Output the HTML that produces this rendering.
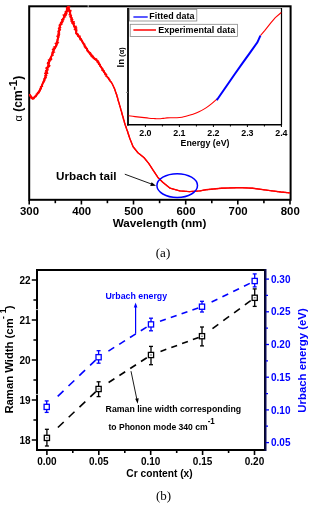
<!DOCTYPE html>
<html><head><meta charset="utf-8"><style>
html,body{margin:0;padding:0;background:#fff;}
svg{display:block;will-change:transform;}
</style></head><body>
<svg width="335" height="508" viewBox="0 0 335 508">
<rect x="29.2" y="6.3" width="261.4" height="193.5" fill="none" stroke="#000" stroke-width="2"/>
<line x1="29.2" y1="200" x2="29.2" y2="204.5" stroke="#000" stroke-width="1.6"/>
<line x1="55.3" y1="200" x2="55.3" y2="203.2" stroke="#000" stroke-width="1.6"/>
<line x1="81.4" y1="200" x2="81.4" y2="204.5" stroke="#000" stroke-width="1.6"/>
<line x1="107.4" y1="200" x2="107.4" y2="203.2" stroke="#000" stroke-width="1.6"/>
<line x1="133.5" y1="200" x2="133.5" y2="204.5" stroke="#000" stroke-width="1.6"/>
<line x1="159.6" y1="200" x2="159.6" y2="203.2" stroke="#000" stroke-width="1.6"/>
<line x1="185.7" y1="200" x2="185.7" y2="204.5" stroke="#000" stroke-width="1.6"/>
<line x1="211.8" y1="200" x2="211.8" y2="203.2" stroke="#000" stroke-width="1.6"/>
<line x1="237.8" y1="200" x2="237.8" y2="204.5" stroke="#000" stroke-width="1.6"/>
<line x1="263.9" y1="200" x2="263.9" y2="203.2" stroke="#000" stroke-width="1.6"/>
<line x1="290.0" y1="200" x2="290.0" y2="204.5" stroke="#000" stroke-width="1.6"/>
<text x="29.5" y="215.2" text-anchor="middle" style="font-family:'Liberation Sans',sans-serif;font-weight:bold;font-size:11.4px">300</text>
<text x="81.7" y="215.2" text-anchor="middle" style="font-family:'Liberation Sans',sans-serif;font-weight:bold;font-size:11.4px">400</text>
<text x="133.8" y="215.2" text-anchor="middle" style="font-family:'Liberation Sans',sans-serif;font-weight:bold;font-size:11.4px">500</text>
<text x="186.0" y="215.2" text-anchor="middle" style="font-family:'Liberation Sans',sans-serif;font-weight:bold;font-size:11.4px">600</text>
<text x="238.1" y="215.2" text-anchor="middle" style="font-family:'Liberation Sans',sans-serif;font-weight:bold;font-size:11.4px">700</text>
<text x="290.3" y="215.2" text-anchor="middle" style="font-family:'Liberation Sans',sans-serif;font-weight:bold;font-size:11.4px">800</text>
<text x="159.5" y="227.2" text-anchor="middle" style="font-family:'Liberation Sans',sans-serif;font-weight:bold;font-size:11.7px">Wavelength (nm)</text>
<text transform="translate(22,121.4) rotate(-90)" style="font-family:'Liberation Sans',sans-serif;font-weight:bold;font-size:12px"><tspan style="font-weight:normal;font-size:11px">α</tspan> (cm<tspan dy="-5" style="font-size:11.8px">-1</tspan><tspan dy="5">)</tspan></text>
<polyline points="29.6,94.3 31.4,97.9 33.2,98.5 35.6,96.1 38.5,92.5 41.5,86.6 43.9,80.6 45.7,75.8 46.9,69.9 48.7,63.9 49.9,59.7 51.7,55.5 53.5,50.7 56.0,46.0 57.2,42.4 58.8,34.0 59.6,27.0 61.8,22.0 63.8,17.9 65.3,13.4 67.1,9.7 68.3,6.7 69.8,11.9 71.3,17.9 73.5,24.6 75.8,29.1 76.3,33.4 80.7,38.8 84.3,45.1 88.8,52.2 92.4,56.7 96.9,60.3 101.3,67.5 105.8,74.6 109.4,80.0 111.5,82.5 114.6,88.8 116.7,95.0 118.8,102.4 120.9,109.7 123.0,117.0 125.0,124.3 127.2,130.6 129.8,138.5 133.1,146.7 137.9,152.7 143.9,157.5 148.7,163.4 153.4,170.6 158.2,177.8 163.0,182.5 170.1,188.2 179.7,190.9 189.3,191.6 200.0,190.9 205.7,189.8 221.3,188.2 240.2,187.6 252.7,188.2 268.4,190.4 280.9,192.0 290.0,192.9" fill="none" stroke="#f00" stroke-width="1.4" stroke-linejoin="round"/>
<polyline points="29.6,94.3 31.4,97.9 33.2,98.5 35.6,96.1 38.5,92.5 41.5,86.6 43.9,80.6 45.7,75.8 46.9,69.9 48.7,63.9 49.9,59.7 51.7,55.5 53.5,50.7 56.0,46.0 57.2,42.4 58.8,34.0 59.6,27.0 61.8,22.0 63.8,17.9 65.3,13.4 67.1,9.7 68.3,6.7 69.8,11.9 71.3,17.9 73.5,24.6 75.8,29.1 76.3,33.4 80.7,38.8 84.3,45.1 88.8,52.2 92.4,56.7 96.9,60.3 101.3,67.5 105.8,74.6" fill="none" stroke="#f00" stroke-width="1.9" stroke-linejoin="round"/>
<polyline points="30.1,94.1 29.7,94.8 30.3,95.1 30.1,95.7 30.3,96.2 31.5,96.2 31.8,96.6 30.6,97.8 31.6,97.4 32.2,97.6 32.3,99.2 33.2,98.5 34.1,98.6 34.0,97.7 34.6,97.5 34.3,96.4 35.4,96.7 36.2,96.6 36.0,95.7 36.6,95.6 36.8,95.1 36.2,94.0 37.6,94.4 37.7,93.8 37.5,93.1 37.4,92.3 39.2,92.8 38.7,92.0 39.4,91.8 39.9,91.5 39.8,90.9 40.4,90.6 39.7,89.7 40.7,89.6 40.2,88.8 41.4,88.8 41.5,88.3 40.3,87.1 40.6,86.7 41.0,86.4 42.6,86.4 41.8,85.6 42.3,85.2 41.9,84.5 42.5,84.1 42.5,83.5 42.6,83.0 43.3,82.7 43.5,82.2 44.3,81.9 44.0,81.2 44.7,80.9 44.7,80.4 45.2,80.0 44.8,79.3 44.0,78.4 45.5,78.5 45.9,78.0 46.4,77.7 45.6,76.8 46.2,76.5 44.7,75.6 46.9,75.5 46.1,74.9 45.3,74.2 44.6,73.5 47.4,73.6 47.9,73.2 45.0,72.1 47.5,72.1 46.3,71.3 45.5,70.6 46.1,70.3 47.8,70.2 48.3,69.8 45.7,68.5 47.7,68.5 46.0,67.5 48.4,67.6 47.2,66.7 49.2,66.8 49.7,66.4 48.3,65.4 50.0,65.4 47.9,64.2 47.3,63.5 49.2,63.5 47.5,62.4 48.2,62.0 49.0,61.7 49.8,61.4 48.5,60.4 48.3,59.8 51.0,60.2 49.5,59.0 51.7,59.4 51.7,58.8 50.3,57.7 50.8,57.3 51.2,56.9 51.7,56.6 51.8,56.1 51.9,55.6 52.3,55.2 53.5,55.1 52.3,54.1 52.2,53.5 53.3,53.4 51.9,52.3 52.3,51.9 54.7,52.2 53.4,51.2 53.6,50.8 52.3,49.4 53.7,49.6 54.5,49.4 53.1,48.1 55.1,48.5 55.4,48.1 53.9,46.7 55.9,47.1 55.6,46.4 56.6,46.2 55.7,45.3 57.0,45.2 57.3,44.7 55.1,43.4 55.4,43.0 57.6,43.1 58.7,42.7 56.5,41.7 57.2,41.4 57.8,41.0 57.0,40.3 57.2,39.8 57.1,39.3 57.4,38.9 58.3,38.5 57.4,37.8 57.7,37.4 59.1,37.1 56.7,36.2 58.7,36.0 59.3,35.6 58.0,34.9 57.8,34.3 59.8,34.1 58.0,33.4 57.9,32.9 58.8,32.5 59.7,32.1 57.7,31.3 58.5,30.9 58.6,30.4 60.4,30.1 59.1,29.5 60.6,29.1 58.3,28.4 58.9,27.9 60.1,27.6 60.8,27.5 59.7,26.4 59.2,25.6 59.1,25.0 60.6,25.0 59.7,24.1 61.9,24.4 62.2,24.0 60.4,22.6 60.9,22.2 62.7,22.5 62.5,21.8 63.2,21.5 62.0,20.4 61.6,19.6 62.3,19.4 64.0,19.7 62.7,18.5 63.1,18.1 63.5,17.8 63.7,17.3 63.8,16.8 65.7,16.9 63.4,15.5 63.0,14.9 66.2,15.4 66.2,14.8 66.7,14.4 65.1,13.3 66.9,13.6 67.1,13.1 65.1,11.6 67.0,11.9 67.5,11.6 67.1,10.9 66.9,10.2 66.4,9.4 66.8,9.0 66.6,8.4 66.3,7.7 68.2,7.8 67.4,6.9 67.3,7.0 69.9,6.8 67.3,8.1 68.1,8.4 67.5,9.2 67.8,9.7 67.9,10.2 69.1,10.4 71.1,10.4 68.8,11.6 70.9,11.6 70.6,12.2 69.5,13.0 70.1,13.4 70.6,13.8 69.0,14.8 70.2,15.0 71.2,15.3 71.6,15.7 69.7,16.7 71.1,16.9 70.2,17.6 71.8,17.7 72.4,18.1 71.5,18.9 70.7,19.7 73.0,19.5 71.1,20.6 70.9,21.2 71.4,21.6 71.5,22.1 74.3,21.7 72.5,22.8 71.9,23.5 74.6,23.2 74.1,23.9 74.2,24.2 73.6,25.1 74.2,25.4 74.3,25.9 73.6,26.8 76.2,26.1 76.2,26.6 76.2,27.2 76.5,27.6 76.9,28.0 74.2,29.3 74.7,29.8 77.3,30.0 76.0,30.7 76.7,31.2 76.7,31.7 76.7,32.3 75.7,32.9 76.1,33.6 77.0,33.5 77.8,33.6 77.8,34.3 78.6,34.3 77.8,35.6 77.8,36.4 79.0,36.1 80.1,35.8 80.2,36.4 80.0,37.3 79.7,38.2 79.6,39.0 81.1,38.6 80.1,39.8 80.9,39.9 81.7,40.0 82.1,40.4 82.0,41.0 81.9,41.7 82.7,41.9 82.4,42.6 83.1,42.8 83.8,43.0 83.5,43.8 83.4,44.4 84.9,44.2 84.4,45.0 84.7,45.5 84.2,46.4 84.3,46.9 85.7,46.7 85.0,47.8 85.4,48.1 86.7,47.9 86.6,48.6 87.5,48.6 86.5,49.9 87.1,50.2 87.0,50.9 87.4,51.2 87.9,51.5 88.1,52.0 88.7,52.3 89.8,52.1 89.3,53.1 90.6,52.7 90.7,53.3 90.0,54.6 91.5,54.0 91.8,54.5 92.1,54.9 91.1,56.4 92.6,55.8 93.1,55.9 92.3,57.6 93.7,56.7 93.2,58.3 93.8,58.3 94.0,58.9 94.2,59.4 95.2,59.1 95.3,59.8 96.7,58.8 96.1,60.4 96.9,60.3 96.8,61.0 98.2,60.7 97.3,61.9 97.2,62.6 99.1,62.0 98.9,62.8 98.7,63.5 98.5,64.3 99.9,64.1 100.3,64.4 100.4,65.0 100.0,65.8 100.0,66.4 100.9,66.5 101.3,66.9 101.5,67.4 101.9,67.8 102.0,68.3 102.9,68.3 102.4,69.3 101.8,70.3 103.1,70.1 102.8,70.9 104.2,70.7 103.5,71.7 103.6,72.2 104.1,72.6 104.6,72.8 105.0,73.2 105.0,73.9 104.8,74.6 106.4,74.2 106.8,74.6 105.9,75.8 105.9,76.5 107.0,76.4 107.4,76.8 107.2,77.6 108.5,77.4 108.6,77.9 109.1,78.3 108.6,79.2 109.4,79.3 109.9,79.6 109.4,80.7 109.9,81.0 110.5,81.2 110.7,81.7 111.2,82.0 111.3,82.6 111.7,83.0 112.1,83.3 112.3,83.8 112.6,84.2 112.6,84.7 112.9,85.2 113.2,85.6 113.3,86.1 113.6,86.5 113.6,87.1 114.1,87.4 113.9,88.0 114.4,88.3 114.5,88.8 114.8,89.3 114.7,89.8 114.9,90.3 115.2,90.7 115.4,91.2 115.4,91.7 115.5,92.2 115.9,92.6 115.9,93.1 116.0,93.7 116.4,94.0 116.7,94.5 116.9,95.0 116.7,95.5 116.9,96.0 116.9,96.6 117.1,97.0 117.5,97.4 117.7,97.9 117.8,98.4 118.0,98.9 117.8,99.5 117.9,100.0 118.0,100.5 118.5,100.9 118.3,101.5 118.8,101.9 118.8,102.4 118.8,102.9 119.3,103.3 119.5,103.8 119.2,104.4 119.6,104.8 119.7,105.3 119.7,105.8 119.8,106.3 120.3,106.7 120.3,107.2 120.4,107.7 120.5,108.2 120.8,108.7 120.7,109.2 120.6,109.8 121.1,110.2 121.2,110.7 121.5,111.1 121.6,111.6 121.5,112.2 122.0,112.6 121.7,113.2 121.8,113.7 122.4,114.0 122.0,114.6 122.5,115.0 122.4,115.6 122.6,116.1 123.0,116.5 122.9,117.0 123.0,117.5 123.1,118.0 123.5,118.4 123.4,119.0 123.4,119.5 123.7,119.9 123.9,120.4 124.3,120.8 124.2,121.4 124.4,121.8 124.3,122.4 124.5,122.9 124.7,123.3 125.1,123.8 124.9,124.3 125.1,124.8 125.5,125.2 125.3,125.8 125.6,126.3 126.1,126.6 125.8,127.3 126.4,127.6 126.4,128.1 126.4,128.7 126.6,129.2 126.8,129.6 126.9,130.1 127.2,130.6 127.5,131.1 127.7,131.5 127.9,132.0 127.7,132.6 127.9,133.1 128.2,133.6 128.2,134.1 128.6,134.5 128.8,135.0 128.9,135.5 128.8,136.1 129.4,136.4 129.3,137.0 129.6,137.5 129.5,138.1 129.9,138.5 130.1,138.9 130.2,139.5 130.4,139.9 130.6,140.4 130.8,140.9 131.0,141.4 131.2,141.9 131.4,142.4 131.5,142.8 131.7,143.3 131.9,143.8 132.1,144.3 132.3,144.8 132.5,145.3 132.7,145.7 132.9,146.2 133.1,146.7 133.4,147.1 133.7,147.5 134.1,147.9 134.4,148.3 134.7,148.7 135.0,149.1 135.3,149.5 135.7,149.9 136.0,150.3 136.3,150.7 136.6,151.1 136.9,151.5 137.3,151.9 137.6,152.3 137.9,152.7 138.3,153.0 138.7,153.3 139.1,153.7 139.5,154.0 139.9,154.3 140.3,154.6 140.7,154.9 141.1,155.3 141.5,155.6 141.9,155.9 142.3,156.2 142.7,156.5 143.1,156.9 143.5,157.2 143.9,157.5 144.2,157.9 144.5,158.3 144.9,158.7 145.2,159.1 145.5,159.5 145.8,159.9 146.1,160.3 146.5,160.6 146.8,161.0 147.1,161.4 147.4,161.8 147.7,162.2 148.1,162.6 148.4,163.0 148.7,163.4 149.0,163.8 149.3,164.2 149.5,164.7 149.8,165.1 150.1,165.5 150.4,165.9 150.6,166.4 150.9,166.8 151.2,167.2 151.5,167.6 151.7,168.1 152.0,168.5 152.3,168.9 152.6,169.3 152.8,169.8 153.1,170.2 153.4,170.6 153.7,171.0 154.0,171.4 154.2,171.9 154.5,172.3 154.8,172.7 155.1,173.1 155.4,173.6 155.7,174.0 155.9,174.4 156.2,174.8 156.5,175.3 156.8,175.7 157.1,176.1 157.4,176.5 157.6,177.0 157.9,177.4 158.2,177.8 158.6,178.2 158.9,178.5 159.3,178.9 159.7,179.2 160.0,179.6 160.4,180.0 160.8,180.3 161.2,180.7 161.5,181.1 161.9,181.4 162.3,181.8 162.6,182.1 163.0,182.5 163.4,182.8 163.8,183.1 164.2,183.4 164.6,183.8 165.0,184.1 165.4,184.4 165.8,184.7 166.2,185.0 166.6,185.3 166.9,185.7 167.3,186.0 167.7,186.3 168.1,186.6 168.5,186.9 168.9,187.2 169.3,187.6 169.7,187.9 170.1,188.2 170.6,188.3 171.1,188.5 171.6,188.6 172.1,188.8 172.6,188.9 173.1,189.1 173.6,189.2 174.1,189.3 174.6,189.5 175.2,189.6 175.7,189.8 176.2,189.9 176.7,190.0 177.2,190.2 177.7,190.3 178.2,190.5 178.7,190.6 179.2,190.8 179.7,190.9 180.2,190.9 180.7,191.0 181.2,191.0 181.7,191.0 182.2,191.1 182.7,191.1 183.2,191.2 183.7,191.2 184.2,191.2 184.8,191.3 185.3,191.3 185.8,191.3 186.3,191.4 186.8,191.4 187.3,191.5 187.8,191.5 188.3,191.5 188.8,191.6 189.3,191.6 189.8,191.6 190.3,191.5 190.8,191.5 191.3,191.5 191.8,191.4 192.4,191.4 192.9,191.4 193.4,191.3 193.9,191.3 194.4,191.3 194.9,191.2 195.4,191.2 195.9,191.2 196.4,191.1 196.9,191.1 197.5,191.1 198.0,191.0 198.5,191.0 199.0,191.0 199.5,190.9 200.0,190.9 200.5,190.8 201.0,190.7 201.6,190.6 202.1,190.5 202.6,190.4 203.1,190.3 203.6,190.2 204.1,190.1 204.7,190.0 205.2,189.9 205.7,189.8 206.2,189.7 206.7,189.7 207.2,189.6 207.7,189.6 208.2,189.5 208.7,189.5 209.2,189.4 209.7,189.4 210.2,189.3 210.7,189.3 211.2,189.2 211.7,189.2 212.2,189.1 212.7,189.1 213.2,189.0 213.8,189.0 214.3,188.9 214.8,188.9 215.3,188.8 215.8,188.8 216.3,188.7 216.8,188.7 217.3,188.6 217.8,188.6 218.3,188.5 218.8,188.5 219.3,188.4 219.8,188.4 220.3,188.3 220.8,188.3 221.3,188.2 221.8,188.2 222.3,188.2 222.8,188.2 223.3,188.1 223.9,188.1 224.4,188.1 224.9,188.1 225.4,188.1 225.9,188.1 226.4,188.0 226.9,188.0 227.4,188.0 227.9,188.0 228.5,188.0 229.0,188.0 229.5,187.9 230.0,187.9 230.5,187.9 231.0,187.9 231.5,187.9 232.0,187.9 232.5,187.8 233.0,187.8 233.6,187.8 234.1,187.8 234.6,187.8 235.1,187.8 235.6,187.7 236.1,187.7 236.6,187.7 237.1,187.7 237.6,187.7 238.2,187.7 238.7,187.6 239.2,187.6 239.7,187.6 240.2,187.6 240.7,187.6 241.2,187.6 241.7,187.7 242.2,187.7 242.7,187.7 243.2,187.7 243.7,187.8 244.2,187.8 244.7,187.8 245.2,187.8 245.7,187.9 246.2,187.9 246.7,187.9 247.2,187.9 247.7,188.0 248.2,188.0 248.7,188.0 249.2,188.0 249.7,188.1 250.2,188.1 250.7,188.1 251.2,188.1 251.7,188.2 252.2,188.2 252.7,188.2 253.2,188.3 253.7,188.3 254.2,188.4 254.7,188.5 255.2,188.6 255.7,188.6 256.2,188.7 256.8,188.8 257.3,188.8 257.8,188.9 258.3,189.0 258.8,189.1 259.3,189.1 259.8,189.2 260.3,189.3 260.8,189.3 261.3,189.4 261.8,189.5 262.3,189.5 262.8,189.6 263.3,189.7 263.8,189.8 264.3,189.8 264.9,189.9 265.4,190.0 265.9,190.0 266.4,190.1 266.9,190.2 267.4,190.3 267.9,190.3 268.4,190.4 268.9,190.5 269.4,190.5 269.9,190.6 270.4,190.7 270.9,190.7 271.4,190.8 271.9,190.8 272.4,190.9 272.9,191.0 273.4,191.0 273.9,191.1 274.4,191.2 274.9,191.2 275.4,191.3 275.9,191.4 276.4,191.4 276.9,191.5 277.4,191.6 277.9,191.6 278.4,191.7 278.9,191.7 279.4,191.8 279.9,191.9 280.4,191.9 280.9,192.0 281.4,192.1 281.9,192.1 282.4,192.2 282.9,192.2 283.4,192.2 283.9,192.3 284.4,192.3 284.9,192.4 285.4,192.4 286.0,192.5 286.5,192.6 287.0,192.6 287.5,192.7 288.0,192.7 288.5,192.8 289.0,192.8 289.5,192.8 290.0,192.9" fill="none" stroke="#f00" stroke-width="1.2" stroke-linejoin="round"/>
<ellipse cx="177.2" cy="185.6" rx="20.3" ry="11.9" fill="none" stroke="#00f" stroke-width="1.5"/>
<line x1="124.8" y1="174.2" x2="153" y2="184.6" stroke="#000" stroke-width="0.9"/>
<polygon points="156,185.7 150.2,186.1 151.6,182.3" fill="#000"/>
<text x="56" y="180" style="font-family:'Liberation Sans',sans-serif;font-weight:bold;font-size:11.7px">Urbach tail</text>
<rect x="128" y="8.5" width="153.5" height="116.5" fill="#fff" stroke="none"/>
<line x1="128" y1="8.5" x2="281.5" y2="8.5" stroke="#888" stroke-width="1"/>
<line x1="281.5" y1="8" x2="281.5" y2="125" stroke="#000" stroke-width="1.2"/>
<line x1="128" y1="8" x2="128" y2="125.5" stroke="#000" stroke-width="1.8"/>
<line x1="127" y1="124.8" x2="282" y2="124.8" stroke="#000" stroke-width="1.5"/>
<line x1="145.4" y1="125" x2="145.4" y2="127" stroke="#000" stroke-width="1"/>
<line x1="162.4" y1="125" x2="162.4" y2="126.5" stroke="#000" stroke-width="1"/>
<line x1="179.4" y1="125" x2="179.4" y2="127" stroke="#000" stroke-width="1"/>
<line x1="196.4" y1="125" x2="196.4" y2="126.5" stroke="#000" stroke-width="1"/>
<line x1="213.4" y1="125" x2="213.4" y2="127" stroke="#000" stroke-width="1"/>
<line x1="230.4" y1="125" x2="230.4" y2="126.5" stroke="#000" stroke-width="1"/>
<line x1="247.4" y1="125" x2="247.4" y2="127" stroke="#000" stroke-width="1"/>
<line x1="264.4" y1="125" x2="264.4" y2="126.5" stroke="#000" stroke-width="1"/>
<line x1="281.4" y1="125" x2="281.4" y2="127" stroke="#000" stroke-width="1"/>
<text x="145.4" y="135.7" text-anchor="middle" style="font-family:'Liberation Sans',sans-serif;font-weight:bold;font-size:8.9px">2.0</text>
<text x="179.4" y="135.7" text-anchor="middle" style="font-family:'Liberation Sans',sans-serif;font-weight:bold;font-size:8.9px">2.1</text>
<text x="213.4" y="135.7" text-anchor="middle" style="font-family:'Liberation Sans',sans-serif;font-weight:bold;font-size:8.9px">2.2</text>
<text x="247.4" y="135.7" text-anchor="middle" style="font-family:'Liberation Sans',sans-serif;font-weight:bold;font-size:8.9px">2.3</text>
<text x="281.4" y="135.7" text-anchor="middle" style="font-family:'Liberation Sans',sans-serif;font-weight:bold;font-size:8.9px">2.4</text>
<text x="205" y="146.2" text-anchor="middle" style="font-family:'Liberation Sans',sans-serif;font-weight:bold;font-size:8.8px">Energy (eV)</text>
<line x1="126" y1="92.4" x2="128" y2="92.4" stroke="#888" stroke-width="1"/>
<text transform="translate(123.6,67.5) rotate(-90)" style="font-family:'Liberation Sans',sans-serif;font-weight:bold;font-size:9.8px">ln<tspan style="font-size:7.4px"> (α)</tspan></text>
<path d="M128.50,115.80 C129.58,115.93 132.75,116.33 135.00,116.60 C137.25,116.87 139.67,117.13 142.00,117.40 C144.33,117.67 146.83,118.00 149.00,118.20 C151.17,118.40 153.33,118.50 155.00,118.60 C156.67,118.70 157.67,118.83 159.00,118.80 C160.33,118.77 161.67,118.55 163.00,118.40 C164.33,118.25 165.50,118.00 167.00,117.90 C168.50,117.80 170.33,117.83 172.00,117.80 C173.67,117.77 175.33,117.80 177.00,117.70 C178.67,117.60 180.50,117.43 182.00,117.20 C183.50,116.97 184.33,116.75 186.00,116.30 C187.67,115.85 189.83,115.25 192.00,114.50 C194.17,113.75 196.67,112.90 199.00,111.80 C201.33,110.70 203.83,109.30 206.00,107.90 C208.17,106.50 210.07,104.98 212.00,103.40 C213.93,101.82 216.67,99.23 217.60,98.40" fill="none" stroke="#f00" stroke-width="1.1"/>
<polyline points="260.4,35.6 264.9,30.4 270.8,22.9 275.3,17.7 281.3,12.5" fill="none" stroke="#f00" stroke-width="1.1"/>
<polyline points="216.7,100.3 235,73.7 242.5,63.2 249.9,52.8 257.4,42.3 260.4,35.6" fill="none" stroke="#00f" stroke-width="2"/>
<rect x="129.5" y="9.5" width="67.3" height="11.5" fill="#fff" stroke="#888" stroke-width="0.8"/>
<line x1="133.4" y1="17" x2="147.7" y2="17" stroke="#00f" stroke-width="1.3"/>
<text transform="translate(149.3,19.4) scale(1,1.08)" style="font-family:'Liberation Sans',sans-serif;font-weight:bold;font-size:8.95px">Fitted data</text>
<rect x="130.2" y="24.3" width="107.2" height="12.2" fill="#fff" stroke="#888" stroke-width="0.8"/>
<line x1="133.4" y1="30" x2="156" y2="30" stroke="#f00" stroke-width="1.5"/>
<text transform="translate(158.2,33.2) scale(1,1.08)" style="font-family:'Liberation Sans',sans-serif;font-weight:bold;font-size:8.95px">Experimental data</text>
<text x="163" y="257" text-anchor="middle" style="font-family:'Liberation Serif',serif;font-size:13px">(a)</text>
<rect x="37" y="270" width="228" height="180" fill="none" stroke="#000" stroke-width="2"/>
<line x1="265.5" y1="269" x2="265.5" y2="451" stroke="#0a0a50" stroke-width="2"/>
<line x1="31.8" y1="440.0" x2="36" y2="440.0" stroke="#000" stroke-width="1.5"/>
<line x1="33.4" y1="420.0" x2="36" y2="420.0" stroke="#000" stroke-width="1.5"/>
<line x1="31.8" y1="400.0" x2="36" y2="400.0" stroke="#000" stroke-width="1.5"/>
<line x1="33.4" y1="380.0" x2="36" y2="380.0" stroke="#000" stroke-width="1.5"/>
<line x1="31.8" y1="360.0" x2="36" y2="360.0" stroke="#000" stroke-width="1.5"/>
<line x1="33.4" y1="340.0" x2="36" y2="340.0" stroke="#000" stroke-width="1.5"/>
<line x1="31.8" y1="320.0" x2="36" y2="320.0" stroke="#000" stroke-width="1.5"/>
<line x1="33.4" y1="300.0" x2="36" y2="300.0" stroke="#000" stroke-width="1.5"/>
<line x1="31.8" y1="280.0" x2="36" y2="280.0" stroke="#000" stroke-width="1.5"/>
<text x="30.5" y="443.6" text-anchor="end" style="font-family:'Liberation Sans',sans-serif;font-weight:bold;font-size:10px">18</text>
<text x="30.5" y="403.6" text-anchor="end" style="font-family:'Liberation Sans',sans-serif;font-weight:bold;font-size:10px">19</text>
<text x="30.5" y="363.6" text-anchor="end" style="font-family:'Liberation Sans',sans-serif;font-weight:bold;font-size:10px">20</text>
<text x="30.5" y="323.6" text-anchor="end" style="font-family:'Liberation Sans',sans-serif;font-weight:bold;font-size:10px">21</text>
<text x="30.5" y="283.6" text-anchor="end" style="font-family:'Liberation Sans',sans-serif;font-weight:bold;font-size:10px">22</text>
<line x1="266" y1="442.6" x2="269" y2="442.6" stroke="#00f" stroke-width="1.3"/>
<line x1="266" y1="426.2" x2="268" y2="426.2" stroke="#00f" stroke-width="1.3"/>
<line x1="266" y1="409.9" x2="269" y2="409.9" stroke="#00f" stroke-width="1.3"/>
<line x1="266" y1="393.6" x2="268" y2="393.6" stroke="#00f" stroke-width="1.3"/>
<line x1="266" y1="377.2" x2="269" y2="377.2" stroke="#00f" stroke-width="1.3"/>
<line x1="266" y1="360.9" x2="268" y2="360.9" stroke="#00f" stroke-width="1.3"/>
<line x1="266" y1="344.5" x2="269" y2="344.5" stroke="#00f" stroke-width="1.3"/>
<line x1="266" y1="328.1" x2="268" y2="328.1" stroke="#00f" stroke-width="1.3"/>
<line x1="266" y1="311.8" x2="269" y2="311.8" stroke="#00f" stroke-width="1.3"/>
<line x1="266" y1="295.4" x2="268" y2="295.4" stroke="#00f" stroke-width="1.3"/>
<line x1="266" y1="279.1" x2="269" y2="279.1" stroke="#00f" stroke-width="1.3"/>
<text x="271" y="446.2" style="font-family:'Liberation Sans',sans-serif;font-weight:bold;font-size:10px;fill:#00f">0.05</text>
<text x="271" y="413.5" style="font-family:'Liberation Sans',sans-serif;font-weight:bold;font-size:10px;fill:#00f">0.10</text>
<text x="271" y="380.8" style="font-family:'Liberation Sans',sans-serif;font-weight:bold;font-size:10px;fill:#00f">0.15</text>
<text x="271" y="348.1" style="font-family:'Liberation Sans',sans-serif;font-weight:bold;font-size:10px;fill:#00f">0.20</text>
<text x="271" y="315.4" style="font-family:'Liberation Sans',sans-serif;font-weight:bold;font-size:10px;fill:#00f">0.25</text>
<text x="271" y="282.7" style="font-family:'Liberation Sans',sans-serif;font-weight:bold;font-size:10px;fill:#00f">0.30</text>
<line x1="46.9" y1="450" x2="46.9" y2="455" stroke="#000" stroke-width="1.6"/>
<line x1="72.8" y1="450" x2="72.8" y2="453" stroke="#000" stroke-width="1.6"/>
<line x1="98.8" y1="450" x2="98.8" y2="455" stroke="#000" stroke-width="1.6"/>
<line x1="124.8" y1="450" x2="124.8" y2="453" stroke="#000" stroke-width="1.6"/>
<line x1="150.7" y1="450" x2="150.7" y2="455" stroke="#000" stroke-width="1.6"/>
<line x1="176.7" y1="450" x2="176.7" y2="453" stroke="#000" stroke-width="1.6"/>
<line x1="202.6" y1="450" x2="202.6" y2="455" stroke="#000" stroke-width="1.6"/>
<line x1="228.6" y1="450" x2="228.6" y2="453" stroke="#000" stroke-width="1.6"/>
<line x1="254.5" y1="450" x2="254.5" y2="455" stroke="#000" stroke-width="1.6"/>
<text x="46.9" y="464.5" text-anchor="middle" style="font-family:'Liberation Sans',sans-serif;font-weight:bold;font-size:10px">0.00</text>
<text x="98.8" y="464.5" text-anchor="middle" style="font-family:'Liberation Sans',sans-serif;font-weight:bold;font-size:10px">0.05</text>
<text x="150.7" y="464.5" text-anchor="middle" style="font-family:'Liberation Sans',sans-serif;font-weight:bold;font-size:10px">0.10</text>
<text x="202.6" y="464.5" text-anchor="middle" style="font-family:'Liberation Sans',sans-serif;font-weight:bold;font-size:10px">0.15</text>
<text x="254.5" y="464.5" text-anchor="middle" style="font-family:'Liberation Sans',sans-serif;font-weight:bold;font-size:10px">0.20</text>
<text transform="translate(159.5,476.6) scale(1,1.08)" text-anchor="middle" style="font-family:'Liberation Sans',sans-serif;font-weight:bold;font-size:10.2px">Cr content (x)</text>
<text transform="translate(12.8,413.6) rotate(-90)" style="font-family:'Liberation Sans',sans-serif;font-weight:bold;font-size:11.3px">Raman Width (cm<tspan dy="-6.5" dx="-0.6" style="font-size:8.8px">-</tspan><tspan dx="2.6" style="font-size:8.8px">1</tspan><tspan dy="6.5" dx="-0.7">)</tspan></text>
<text transform="translate(306.4,360.5) rotate(-90)" text-anchor="middle" style="font-family:'Liberation Sans',sans-serif;font-weight:bold;font-size:11.4px;fill:#00f">Urbach energy (eV)</text>
<text x="163.6" y="499.8" text-anchor="middle" style="font-family:'Liberation Serif',serif;font-size:13px">(b)</text>
<line x1="35.5" y1="309.6" x2="38.5" y2="309.6" stroke="#e8e8e8" stroke-width="0.8"/>
<line x1="35.5" y1="394.4" x2="38.5" y2="394.4" stroke="#e8e8e8" stroke-width="0.8"/>
<line x1="88.2" y1="5" x2="88.2" y2="7.6" stroke="#e0e0e0" stroke-width="0.8"/>
<line x1="57.70" y1="396.37" x2="63.50" y2="390.81" stroke="#00f" stroke-width="1.6"/>
<line x1="68.50" y1="386.02" x2="74.30" y2="380.47" stroke="#00f" stroke-width="1.6"/>
<line x1="79.30" y1="375.68" x2="85.10" y2="370.13" stroke="#00f" stroke-width="1.6"/>
<line x1="90.10" y1="365.34" x2="95.60" y2="360.07" stroke="#00f" stroke-width="1.6"/>
<line x1="108.40" y1="351.07" x2="114.20" y2="347.44" stroke="#00f" stroke-width="1.6"/>
<line x1="119.20" y1="344.31" x2="125.00" y2="340.67" stroke="#00f" stroke-width="1.6"/>
<line x1="130.00" y1="337.55" x2="135.80" y2="333.91" stroke="#00f" stroke-width="1.6"/>
<line x1="140.80" y1="330.78" x2="146.60" y2="327.15" stroke="#00f" stroke-width="1.6"/>
<line x1="160.00" y1="321.28" x2="165.80" y2="319.26" stroke="#00f" stroke-width="1.6"/>
<line x1="170.80" y1="317.53" x2="176.60" y2="315.52" stroke="#00f" stroke-width="1.6"/>
<line x1="181.60" y1="313.78" x2="187.40" y2="311.77" stroke="#00f" stroke-width="1.6"/>
<line x1="192.40" y1="310.03" x2="198.20" y2="308.02" stroke="#00f" stroke-width="1.6"/>
<line x1="211.60" y1="302.02" x2="217.40" y2="299.19" stroke="#00f" stroke-width="1.6"/>
<line x1="222.40" y1="296.75" x2="228.20" y2="293.92" stroke="#00f" stroke-width="1.6"/>
<line x1="233.20" y1="291.48" x2="239.00" y2="288.66" stroke="#00f" stroke-width="1.6"/>
<line x1="244.00" y1="286.22" x2="249.80" y2="283.39" stroke="#00f" stroke-width="1.6"/>
<line x1="57.90" y1="427.50" x2="63.70" y2="422.01" stroke="#000" stroke-width="1.6"/>
<line x1="68.70" y1="417.28" x2="74.50" y2="411.79" stroke="#000" stroke-width="1.6"/>
<line x1="79.50" y1="407.07" x2="85.30" y2="401.58" stroke="#000" stroke-width="1.6"/>
<line x1="90.30" y1="396.85" x2="95.60" y2="391.84" stroke="#000" stroke-width="1.6"/>
<line x1="108.60" y1="382.51" x2="114.40" y2="378.75" stroke="#000" stroke-width="1.6"/>
<line x1="119.40" y1="375.50" x2="125.20" y2="371.74" stroke="#000" stroke-width="1.6"/>
<line x1="130.20" y1="368.50" x2="136.00" y2="364.73" stroke="#000" stroke-width="1.6"/>
<line x1="141.00" y1="361.49" x2="146.80" y2="357.73" stroke="#000" stroke-width="1.6"/>
<line x1="160.50" y1="351.50" x2="166.30" y2="349.36" stroke="#000" stroke-width="1.6"/>
<line x1="171.30" y1="347.52" x2="177.10" y2="345.38" stroke="#000" stroke-width="1.6"/>
<line x1="182.10" y1="343.54" x2="187.90" y2="341.40" stroke="#000" stroke-width="1.6"/>
<line x1="192.90" y1="339.55" x2="198.70" y2="337.42" stroke="#000" stroke-width="1.6"/>
<line x1="212.50" y1="328.55" x2="218.30" y2="324.32" stroke="#000" stroke-width="1.6"/>
<line x1="223.30" y1="320.68" x2="229.10" y2="316.45" stroke="#000" stroke-width="1.6"/>
<line x1="234.10" y1="312.81" x2="239.90" y2="308.58" stroke="#000" stroke-width="1.6"/>
<line x1="244.90" y1="304.94" x2="250.70" y2="300.71" stroke="#000" stroke-width="1.6"/>
<line x1="46.7" y1="400.9" x2="46.7" y2="412.4" stroke="#00f" stroke-width="1.3"/>
<line x1="44.7" y1="400.9" x2="48.7" y2="400.9" stroke="#00f" stroke-width="1.3"/>
<line x1="44.7" y1="412.4" x2="48.7" y2="412.4" stroke="#00f" stroke-width="1.3"/>
<rect x="44.1" y="404.29999999999995" width="5.2" height="5.2" fill="#fff" stroke="#00f" stroke-width="1.3"/>
<line x1="98.6" y1="350.7" x2="98.6" y2="363.2" stroke="#00f" stroke-width="1.3"/>
<line x1="96.6" y1="350.7" x2="100.6" y2="350.7" stroke="#00f" stroke-width="1.3"/>
<line x1="96.6" y1="363.2" x2="100.6" y2="363.2" stroke="#00f" stroke-width="1.3"/>
<rect x="96.0" y="354.59999999999997" width="5.2" height="5.2" fill="#fff" stroke="#00f" stroke-width="1.3"/>
<line x1="151" y1="318.2" x2="151" y2="330.8" stroke="#00f" stroke-width="1.3"/>
<line x1="149" y1="318.2" x2="153" y2="318.2" stroke="#00f" stroke-width="1.3"/>
<line x1="149" y1="330.8" x2="153" y2="330.8" stroke="#00f" stroke-width="1.3"/>
<rect x="148.4" y="321.79999999999995" width="5.2" height="5.2" fill="#fff" stroke="#00f" stroke-width="1.3"/>
<line x1="202" y1="301.3" x2="202" y2="312" stroke="#00f" stroke-width="1.3"/>
<line x1="200" y1="301.3" x2="204" y2="301.3" stroke="#00f" stroke-width="1.3"/>
<line x1="200" y1="312" x2="204" y2="312" stroke="#00f" stroke-width="1.3"/>
<rect x="199.4" y="304.09999999999997" width="5.2" height="5.2" fill="#fff" stroke="#00f" stroke-width="1.3"/>
<line x1="254.7" y1="273.9" x2="254.7" y2="286.9" stroke="#00f" stroke-width="1.3"/>
<line x1="252.7" y1="273.9" x2="256.7" y2="273.9" stroke="#00f" stroke-width="1.3"/>
<line x1="252.7" y1="286.9" x2="256.7" y2="286.9" stroke="#00f" stroke-width="1.3"/>
<rect x="252.1" y="278.4" width="5.2" height="5.2" fill="#fff" stroke="#00f" stroke-width="1.3"/>
<line x1="46.9" y1="429.3" x2="46.9" y2="446" stroke="#000" stroke-width="1.3"/>
<line x1="44.9" y1="429.3" x2="48.9" y2="429.3" stroke="#000" stroke-width="1.3"/>
<line x1="44.9" y1="446" x2="48.9" y2="446" stroke="#000" stroke-width="1.3"/>
<rect x="44.3" y="435.29999999999995" width="5.2" height="5.2" fill="#fff" stroke="#000" stroke-width="1.3"/>
<line x1="98.6" y1="381.8" x2="98.6" y2="396.6" stroke="#000" stroke-width="1.3"/>
<line x1="96.6" y1="381.8" x2="100.6" y2="381.8" stroke="#000" stroke-width="1.3"/>
<line x1="96.6" y1="396.6" x2="100.6" y2="396.6" stroke="#000" stroke-width="1.3"/>
<rect x="96.0" y="386.4" width="5.2" height="5.2" fill="#fff" stroke="#000" stroke-width="1.3"/>
<line x1="151" y1="346.4" x2="151" y2="364.7" stroke="#000" stroke-width="1.3"/>
<line x1="149" y1="346.4" x2="153" y2="346.4" stroke="#000" stroke-width="1.3"/>
<line x1="149" y1="364.7" x2="153" y2="364.7" stroke="#000" stroke-width="1.3"/>
<rect x="148.4" y="352.4" width="5.2" height="5.2" fill="#fff" stroke="#000" stroke-width="1.3"/>
<line x1="202" y1="327" x2="202" y2="345.9" stroke="#000" stroke-width="1.3"/>
<line x1="200" y1="327" x2="204" y2="327" stroke="#000" stroke-width="1.3"/>
<line x1="200" y1="345.9" x2="204" y2="345.9" stroke="#000" stroke-width="1.3"/>
<rect x="199.4" y="333.59999999999997" width="5.2" height="5.2" fill="#fff" stroke="#000" stroke-width="1.3"/>
<line x1="254.7" y1="288.9" x2="254.7" y2="306.4" stroke="#000" stroke-width="1.3"/>
<line x1="252.7" y1="288.9" x2="256.7" y2="288.9" stroke="#000" stroke-width="1.3"/>
<line x1="252.7" y1="306.4" x2="256.7" y2="306.4" stroke="#000" stroke-width="1.3"/>
<rect x="252.1" y="295.2" width="5.2" height="5.2" fill="#fff" stroke="#000" stroke-width="1.3"/>
<rect x="46.0" y="437.4" width="1.8" height="1" fill="#555"/>
<rect x="97.69999999999999" y="388.5" width="1.8" height="1" fill="#555"/>
<rect x="150.1" y="354.5" width="1.8" height="1" fill="#555"/>
<rect x="201.1" y="335.7" width="1.8" height="1" fill="#555"/>
<rect x="253.79999999999998" y="297.3" width="1.8" height="1" fill="#555"/>
<text transform="translate(105.5,299.1) scale(1,1.1)" style="font-family:'Liberation Sans',sans-serif;font-weight:bold;font-size:8.8px;fill:#00f">Urbach energy</text>
<line x1="135.6" y1="333.7" x2="135.6" y2="306" stroke="#00f" stroke-width="1.2"/>
<polygon points="135.6,302.5 133.8,307.5 137.4,307.5" fill="#00f"/>
<line x1="131" y1="371.2" x2="137" y2="400" stroke="#000" stroke-width="0.9"/>
<polygon points="137.7,403.8 135.2,398.8 138.7,398.2" fill="#000"/>
<text transform="translate(105.6,412) scale(1,1.1)" style="font-family:'Liberation Sans',sans-serif;font-weight:bold;font-size:8.75px">Raman line width corresponding</text>
<text transform="translate(108.4,429.8) scale(1,1.1)" style="font-family:'Liberation Sans',sans-serif;font-weight:bold;font-size:8.6px">to Phonon mode 340 cm<tspan dy="-5" style="font-size:8px">-1</tspan></text>
</svg>
</body></html>
